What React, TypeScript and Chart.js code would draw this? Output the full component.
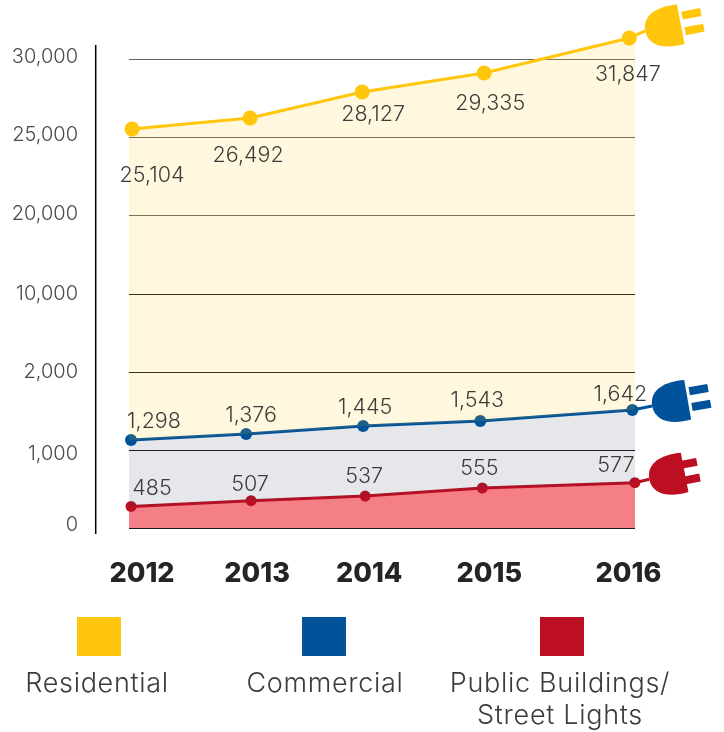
import React, { useEffect, useRef } from "react";
import { Chart, LinearScale, registerables } from "chart.js";

Chart.register(...registerables);

// ---- data ----
const years = ["2012", "2013", "2014", "2015", "2016"];
const residential = [25104, 26492, 28127, 29335, 31847];
const commercial = [1298, 1376, 1445, 1543, 1642];
const publicLights = [485, 507, 537, 555, 577];
const yTickValues = [0, 1000, 2000, 10000, 20000, 25000, 30000];

// The drawing's hand-placed x position of each marker, as a fractional year.
const residentialYears = [2012.024, 2012.957, 2013.843, 2014.808, 2015.955];
const commercialYears = [2012.016, 2012.926, 2013.851, 2014.777, 2015.979];
const publicYears = [2012.016, 2012.965, 2013.867, 2014.793, 2015.999];
const yearTickPositions = [2012.103, 2013.013, 2013.899, 2014.848, 2015.948];

// Where each line's cord meets its plug.
const residentialCord = { year: 2016.082, value: 32330 };
const commercialCord = { year: 2016.136, value: 1680 };
const publicCord = { year: 2016.113, value: 622 };

// The value axis is not linear: [value, grid step] knots.
const axisKnots = [
  [0, 0], [485, 0.276], [507, 0.35], [537, 0.41], [555, 0.513], [577, 0.581],
  [1000, 1], [1298, 1.128], [1376, 1.205], [1445, 1.308], [1543, 1.372], [1642, 1.513],
  [2000, 2], [10000, 3], [20000, 4], [25000, 5], [25104, 5.115], [26492, 5.256],
  [28127, 5.59], [29335, 5.833], [30000, 6], [31847, 6.282], [33000, 6.5],
];

const legendItems = [
  { lines: ["Residential"], color: "#FFC60B" },
  { lines: ["Commercial"], color: "#00529B" },
  { lines: ["Public Buildings/", "Street Lights"], color: "#BC0F22" },
];

// ---- styles and placement ----
const FONT = "Inter, 'Open Sans', sans-serif";
const TEXT = "#3d3c3a";
const legendPlacement = [
  { boxLeft: 77, textX: 97 },
  { boxLeft: 302, textX: 325 },
  { boxLeft: 540, textX: 560 },
];
const yTickLabelGap = 51;
const yTickNudge = [-3, 4, 0, 0, -2, -3, -3];
const labelOffsets = [
  [[20, 47], [-2, 37], [11, 23], [6, 31], [-1.5, 37]],
  [[23, -18], [5, -18], [2, -18], [-3, -20], [-12, -15]],
  [[21, -18], [-1, -16], [-1, -19], [-3, -19], [-19, -17]],
];
const plugStyles = [
  { angle: -11, prongStart: 39, prongLen: 19 },
  { angle: -10, prongStart: 39, prongLen: 19 },
  { angle: -11, prongStart: 35, prongLen: 15 },
];

function stepsForValue(v: number): number {
  for (let i = 1; i < axisKnots.length; i++) {
    const [v0, s0] = axisKnots[i - 1];
    const [v1, s1] = axisKnots[i];
    if (v <= v1) return s0 + ((v - v0) / (v1 - v0)) * (s1 - s0);
  }
  return axisKnots[axisKnots.length - 1][1];
}
function valueForSteps(s: number): number {
  for (let i = 1; i < axisKnots.length; i++) {
    const [v0, s0] = axisKnots[i - 1];
    const [v1, s1] = axisKnots[i];
    if (s <= s1) return v0 + ((s - s0) / (s1 - s0)) * (v1 - v0);
  }
  return axisKnots[axisKnots.length - 1][0];
}
const MAX_STEPS = axisKnots[axisKnots.length - 1][1];

class SteppedScale extends (LinearScale as any) {
  static id = "stepped";
  static defaults = (LinearScale as any).defaults;
  buildTicks() {
    this.min = 0;
    this.max = axisKnots[axisKnots.length - 1][0];
    return yTickValues.map((value) => ({ value }));
  }
  getPixelForValue(value: number) {
    return (this as any).getPixelForDecimal(stepsForValue(value) / MAX_STEPS);
  }
  getValueForPixel(pixel: number) {
    return valueForSteps((this as any).getDecimalForPixel(pixel) * MAX_STEPS);
  }
  _computeLabelItems(area: any) {
    const items = super._computeLabelItems(area);
    items.forEach((item: any, i: number) => {
      const t = item.options.translation;
      item.options.translation = [t[0] - yTickLabelGap, t[1] + yTickNudge[i]];
    });
    return items;
  }
}
Chart.register(SteppedScale as any);

function buildPoints(xs: number[], ys: number[], cord: { year: number; value: number }) {
  return [
    { x: 2011.9, y: ys[0] },
    ...xs.map((x, i) => ({ x, y: ys[i] })),
    { x: cord.year, y: cord.value },
  ];
}
const hideLead = { borderColor: (ctx: any) => (ctx.p0DataIndex === 0 ? "rgba(0,0,0,0)" : undefined) };
const radii = (r: number) => [0, r, r, r, r, r, 0];

const overlayPlugin = {
  id: "overlay",
  afterDatasetsDraw(chart: any) {
    const { ctx } = chart;
    ctx.save();
    // vertical axis rule
    ctx.strokeStyle = "#000";
    ctx.lineWidth = 1.5;
    ctx.beginPath();
    ctx.moveTo(95.7, 45);
    ctx.lineTo(95.7, 534);
    ctx.stroke();

    // value labels, drawn next to each marker
    const labelSets = [residential, commercial, publicLights];
    ctx.font = `300 21.5px ${FONT}`;
    ctx.fillStyle = TEXT;
    ctx.textAlign = "center";
    ctx.textBaseline = "middle";
    labelSets.forEach((vals, d) => {
      const meta = chart.getDatasetMeta(d);
      vals.forEach((v, i) => {
        const p = meta.data[i + 1];
        const off = labelOffsets[d][i];
        ctx.fillText(v.toLocaleString("en-US"), p.x + off[0], p.y + off[1]);
      });
    });

    // plugs at the end of each cord
    labelSets.forEach((_, d) => {
      const meta = chart.getDatasetMeta(d);
      const end = meta.data[meta.data.length - 1];
      const s = plugStyles[d];
      ctx.save();
      ctx.translate(end.x, end.y);
      ctx.rotate((s.angle * Math.PI) / 180);
      ctx.fillStyle = legendItems[d].color;
      ctx.beginPath();
      ctx.moveTo(36, -20);
      ctx.lineTo(36, 20);
      ctx.bezierCurveTo(18, 22, 0, 17, 0, 0);
      ctx.bezierCurveTo(0, -17, 18, -22, 36, -20);
      ctx.closePath();
      ctx.fill();
      ctx.fillRect(s.prongStart, -12, s.prongLen, 8);
      ctx.fillRect(s.prongStart, 4, s.prongLen, 8);
      ctx.restore();
    });

    // legend
    legendItems.forEach((item, i) => {
      const place = legendPlacement[i];
      ctx.fillStyle = item.color;
      ctx.fillRect(place.boxLeft, 617, 44, 39);
      ctx.fillStyle = TEXT;
      ctx.font = `300 27px ${FONT}`;
      (ctx as any).letterSpacing = "0.7px";
      ctx.textAlign = "center";
      ctx.textBaseline = "middle";
      item.lines.forEach((line, j) => ctx.fillText(line, place.textX, 684 + j * 32));
      (ctx as any).letterSpacing = "0px";
    });
    ctx.restore();
  },
};

export default function App() {
  const ref = useRef<HTMLCanvasElement>(null);
  useEffect(() => {
    const chart = new Chart(ref.current!, {
      type: "line",
      data: {
        datasets: [
          {
            label: "Residential",
            data: buildPoints(residentialYears, residential, residentialCord),
            borderColor: legendItems[0].color,
            backgroundColor: "rgba(255,198,11,0.13)",
            pointBackgroundColor: legendItems[0].color,
            pointBorderWidth: 0,
            pointRadius: radii(7.5),
            borderWidth: 3,
            fill: "+1",
            clip: false,
            segment: hideLead,
          },
          {
            label: "Commercial",
            data: buildPoints(commercialYears, commercial, commercialCord),
            borderColor: legendItems[1].color,
            backgroundColor: "rgba(40,60,90,0.12)",
            pointBackgroundColor: legendItems[1].color,
            pointBorderWidth: 0,
            pointRadius: radii(6),
            borderWidth: 3,
            fill: "+1",
            clip: false,
            segment: hideLead,
          },
          {
            label: "Public Buildings/Street Lights",
            data: buildPoints(publicYears, publicLights, publicCord),
            borderColor: legendItems[2].color,
            backgroundColor: "rgba(233,0,16,0.5)",
            pointBackgroundColor: legendItems[2].color,
            pointBorderWidth: 0,
            pointRadius: radii(5.5),
            borderWidth: 3,
            fill: "origin",
            clip: false,
            segment: hideLead,
          },
        ] as any,
      },
      options: {
        responsive: false,
        animation: false,
        layout: { padding: { top: 21, right: 89, left: 0, bottom: 0 } },
        plugins: { legend: { display: false }, tooltip: { enabled: false } },
        scales: {
          x: {
            type: "linear",
            min: 2012,
            max: 2016,
            grid: { display: false },
            border: { display: false },
            afterBuildTicks: (scale: any) => {
              scale.ticks = yearTickPositions.map((value) => ({ value }));
            },
            afterFit: (scale: any) => {
              scale.height = 204;
            },
            ticks: {
              autoSkip: false,
              maxRotation: 0,
              padding: 22,
              color: "#262524",
              font: { family: FONT, size: 27, weight: "800" },
              callback: (_v: any, i: number) => years[i],
            },
          },
          y: {
            type: "stepped",
            grid: {
              drawTicks: false,
              lineWidth: 1,
              color: (ctx: any) => (ctx.tick && ctx.tick.value >= 20000 ? "#6b6757" : "#1c1c1c"),
            },
            border: { display: false },
            afterFit: (scale: any) => {
              scale.width = 129;
            },
            ticks: {
              autoSkip: false,
              padding: 0,
              color: "#4a4947",
              font: { family: FONT, size: 20, weight: "300" },
              callback: (v: any) => Number(v).toLocaleString("en-US"),
            },
          },
        } as any,
      },
      plugins: [overlayPlugin],
    });
    return () => chart.destroy();
  }, []);
  return (
    <canvas
      ref={ref}
      width={724}
      height={732}
      style={{ position: "absolute", left: 0, top: 0, display: "block" }}
    />
  );
}
